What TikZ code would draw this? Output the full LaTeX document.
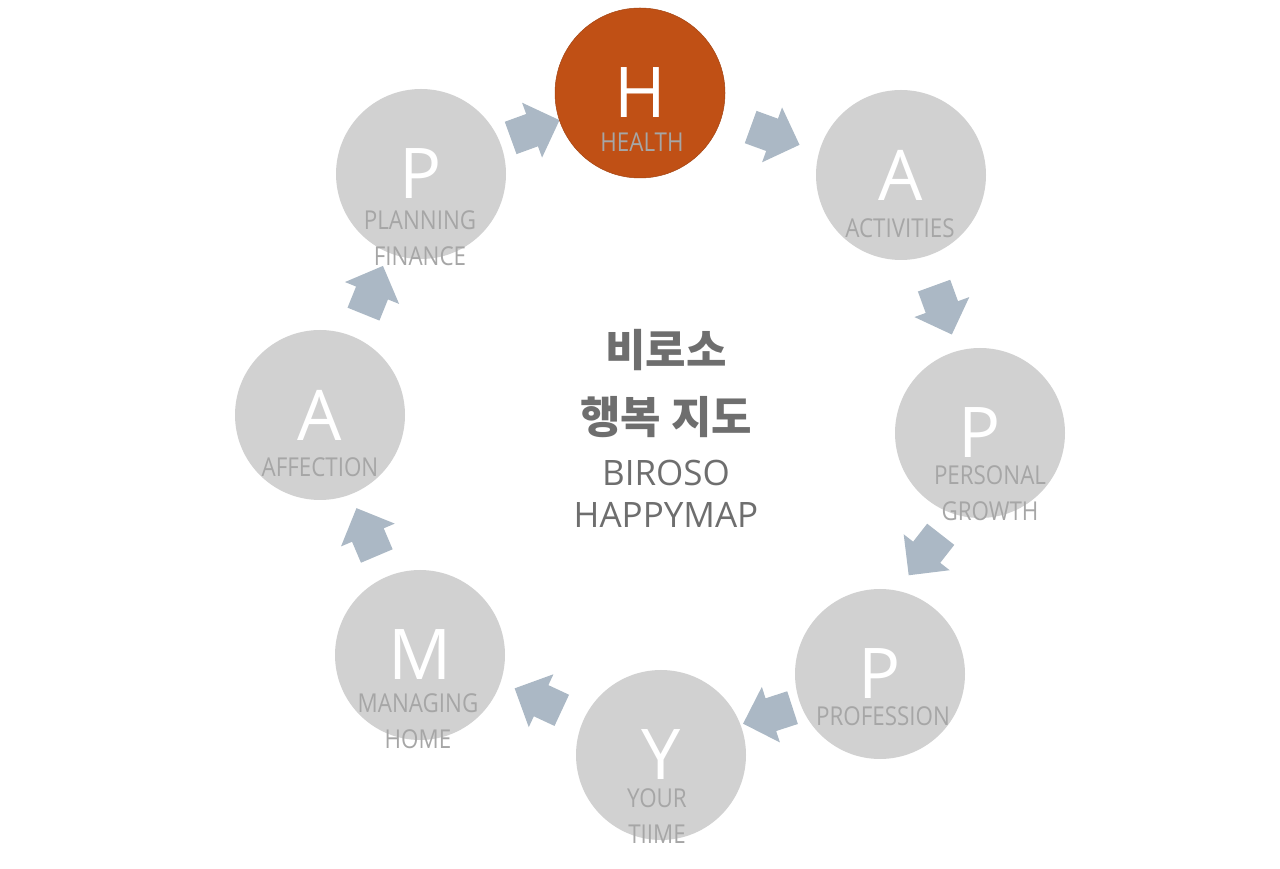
\documentclass[tikz,border=0pt]{standalone}
\usepackage{fontspec}
\setmainfont{Open Sans}
\newfontfamily\tagfont{Open Sans}[FakeStretch=0.86]
\newfontfamily\krfont{Noto Sans CJK KR}
\usepackage{xcolor}
\usetikzlibrary{shapes.arrows}

\definecolor{discgrey}{HTML}{D1D1D1}
\definecolor{healthorange}{HTML}{C05015}
\definecolor{taggrey}{HTML}{A6A6A6}
\definecolor{flowblue}{HTML}{ABB8C5}
\definecolor{titlegrey}{HTML}{6E6E6E}

\begin{document}
\begin{tikzpicture}[
    x=1pt, y=1pt,
    disc/.style={circle, minimum size=170pt, inner sep=0pt, fill=discgrey, text=white, font=\fontsize{70}{70}\selectfont},
    hdisc/.style={disc, fill=healthorange, draw=healthorange!85!black, line width=0.5pt},
    tag/.style={anchor=north, inner sep=0pt, align=center, text=taggrey, font=\tagfont\fontsize{26}{36}\selectfont},
    flow/.style={single arrow, fill=flowblue, inner xsep=0pt, inner ysep=17pt, minimum height=52pt, minimum width=58pt, single arrow head extend=12pt},
    krtitle/.style={inner sep=0pt, text=titlegrey, font=\krfont\bfseries\fontsize{44}{50}\selectfont},
    entitle/.style={inner sep=0pt, text=titlegrey, font=\fontsize{35}{40}\selectfont}
]
    \useasboundingbox (0,0) rectangle (1280,868);

    % Arrows between the steps
    \node[flow, rotate=20] (flow1) at (527,736) {};
    \node[flow, rotate=-20] (flow2) at (767,735) {};
    \node[flow, rotate=-70] (flow3) at (940,566) {};
    \node[flow, rotate=-128] (flow4) at (930,320) {};
    \node[flow, rotate=-162] (flow5) at (776,155) {};
    \node[flow, rotate=155] (flow6) at (546,165) {};
    \node[flow, rotate=113] (flow7) at (370,328) {};
    \node[flow, rotate=68] (flow8) at (370,570) {};

    % Steps
    \node[hdisc] (health) at (640,775) {H};
    \node[disc] (activities) at (901,693) {A};
    \node[disc] (growth) at (980,435) {P};
    \node[disc] (profession) at (880,194) {P};
    \node[disc] (yourtime) at (661,113) {Y};
    \node[disc] (home) at (420,213) {M};
    \node[disc] (affection) at (320,453) {A};
    \node[disc] (finance) at (421,694) {P};

    % Step captions
    \node[tag] (health-tag) at (642,735) {HEALTH};
    \node[tag] (activities-tag) at (900,650) {ACTIVITIES};
    \node[tag] (growth-tag) at (990,403) {PERSONAL\\GROWTH};
    \node[tag] (profession-tag) at (883,162) {PROFESSION};
    \node[tag] (yourtime-tag) at (657,80) {YOUR\\TIIME};
    \node[tag] (home-tag) at (418,175) {MANAGING\\HOME};
    \node[tag] (affection-tag) at (320,411) {AFFECTION};
    \node[tag] (finance-tag) at (420,658) {PLANNING\\FINANCE};

    % Centre title
    \node[krtitle] (title1) at (666,518) {비로소};
    \node[krtitle] (title2) at (666,451) {행복 지도};
    \node[entitle] (title3) at (666,395) {BIROSO};
    \node[entitle] (title4) at (666,353) {HAPPYMAP};
\end{tikzpicture}
\end{document}
